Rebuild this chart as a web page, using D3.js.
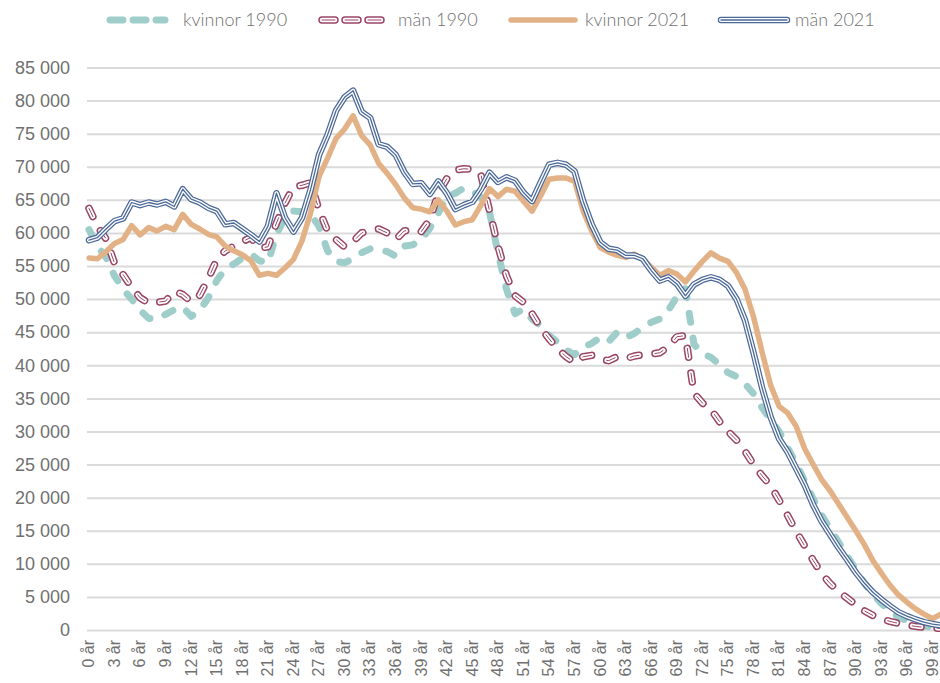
<!DOCTYPE html>
<html>
<head>
<meta charset="utf-8">
<script src="https://cdn.jsdelivr.net/npm/d3@7"></script>
<style>
  body { margin: 0; background: #fff; }
  svg { display: block; font-family: 'Lato Light', Lato, 'Open Sans', sans-serif; font-weight: 300; }
  .axis text { fill: #707070; }
  .axis .domain { display: none; }
  .legend text { fill: #707070; font-size: 18px; }
</style>
</head>
<body>
<svg id="chart" width="940" height="683"></svg>
<script>
// Ages 0..100 (100 = 100+)
var ages = d3.range(0, 101);

var tickAges = [0, 3, 6, 9, 12, 15, 18, 21, 24, 27, 30, 33, 36, 39, 42, 45, 48,
  51, 54, 57, 60, 63, 66, 69, 72, 75, 78, 81, 84, 87, 90, 93, 96, 99];

var yTicks = [0, 5000, 10000, 15000, 20000, 25000, 30000, 35000, 40000, 45000,
  50000, 55000, 60000, 65000, 70000, 75000, 80000, 85000];

var kvinnor1990 = [
  60500, 58000, 56300, 53500, 51500, 50000, 48300, 47100, 47000, 47700,
  48400, 48800, 47400, 48300, 50200, 52800, 54600, 55300, 56200, 56800,
  55800, 55500, 59800, 62300, 63300, 63200, 62800, 61000, 57300, 55700,
  55500, 56100, 57000, 57600, 57400, 57200, 56500, 58000, 58200, 59000,
  60700, 63000, 65500, 66000, 66800, 66300, 65400, 63200, 57000, 51500,
  47800, 48500, 47000, 46000, 44500, 43500, 42300, 41600, 42800, 43300,
  44200, 43600, 45000, 44200, 44800, 45800, 46500, 47000, 48300, 50400,
  51600, 43200, 41800, 41200, 40100, 38900, 38300, 37200, 35700, 33600,
  31800, 30000, 27500, 25200, 22500, 19800, 17300, 15300, 13200, 11200,
  9100, 7100, 5400, 4000, 2900, 2000, 1400, 900, 600, 400,
  350];

var man1990 = [
  63700, 61000, 59100, 55400, 53700, 51800, 50200, 49400, 49500, 49700,
  51200, 50700, 49600, 50600, 53100, 56000, 57300, 58000, 58700, 59300,
  57700, 57900, 61500, 64500, 67000, 67200, 67600, 63500, 60300, 59000,
  57900, 58700, 60000, 60400, 60600, 60000, 59000, 60300, 60500, 60200,
  62000, 66000, 68200, 69500, 69700, 69600, 68800, 63400, 58000, 53500,
  50500, 49500, 47800, 45700, 44000, 42500, 41300, 40400, 41300, 41500,
  40900, 40700, 41300, 41000, 41400, 41600, 41700, 41900, 42800, 44300,
  44500, 35800, 34300, 33300, 31500, 30000, 28700, 27000, 25000, 23300,
  21800, 19600, 17300, 14900, 12700, 10500, 8500, 7000, 5800, 4800,
  3800, 2900, 2200, 1700, 1300, 1000, 750, 550, 400, 300,
  250];

var kvinnor2021 = [
  56200, 56100, 57200, 58400, 59000, 61100, 59700, 60800, 60300, 61000,
  60500, 62800, 61300, 60600, 59800, 59400, 58000, 57300, 56700, 55800,
  53600, 53900, 53600, 54700, 56000, 58800, 63000, 68500, 71300, 74300,
  75700, 77700, 74700, 73300, 70500, 69000, 67300, 65300, 63800, 63600,
  63200, 65000, 63300, 61200, 61700, 62000, 64200, 66700, 65500, 66600,
  66300, 64800, 63300, 65600, 68100, 68300, 68300, 67800, 63300, 60300,
  57800, 57100, 56600, 56300, 56800, 56100, 54800, 53600, 54300, 53800,
  52600, 54200, 55700, 57000, 56200, 55700, 54000, 51500, 47300, 42000,
  37000, 33800, 32800, 30800, 27400, 25000, 22700, 21000, 19000, 17000,
  15000, 12900, 10500, 8600, 6800, 5300, 4200, 3200, 2400, 1700,
  2400];

var man2021 = [
  58900, 59300, 60600, 61800, 62200, 64600, 64200, 64600, 64300, 64700,
  64000, 66600, 65100, 64600, 63800, 63300, 61300, 61500, 60600, 59700,
  58700, 61000, 66000, 62300, 60200, 62300, 66500, 71800, 74800, 78500,
  80500, 81500, 78300, 77400, 73400, 73000, 71800, 69200, 67400, 67500,
  65900, 67800, 66000, 63600, 64200, 64700, 66600, 69100, 67700, 68400,
  67900, 66100, 64800, 67600, 70300, 70600, 70300, 69300, 64800, 61300,
  58600, 57600, 57400, 56600, 56600, 56100, 54300, 52800, 53300, 52300,
  50500, 52200, 52900, 53300, 52900, 52000, 50000, 46800, 41900, 36600,
  32200, 28900, 26900, 24400, 21900, 18900, 16400, 14400, 12400, 10600,
  8700, 7100, 5700, 4600, 3600, 2700, 2100, 1600, 1200, 900,
  700];

var seriesNames = ['kvinnor 1990', 'män 1990', 'kvinnor 2021', 'män 2021'];

(function draw() {

  var svg = d3.select('#chart');

  var xScale = d3.scaleLinear()
    .domain([0, 100])
    .range([89, 941]);

  var yScale = d3.scaleLinear()
    .domain([0, 85000])
    .range([630, 67.5]);

  var fmt = function (d) { return d3.format(',')(d).replace(/,/g, ' '); };

  // Y axis with gridlines
  var yAxis = d3.axisLeft(yScale)
    .tickValues(yTicks)
    .tickSize(-(940 - 87))
    .tickPadding(17)
    .tickFormat(fmt);

  var gy = svg.append('g')
      .attr('class', 'axis')
      .attr('transform', 'translate(87,0)')
      .call(yAxis);

  gy.selectAll('line')
      .attr('stroke', '#dadada')
      .attr('stroke-width', 2);

  gy.selectAll('text')
      .attr('font-size', 18);

  // X axis labels
  var xAxis = d3.axisBottom(xScale)
    .tickValues(tickAges)
    .tickSize(0)
    .tickFormat(function (d) { return d + ' år'; });

  var gx = svg.append('g')
      .attr('class', 'axis')
      .attr('transform', 'translate(0,630)')
      .call(xAxis);

  gx.selectAll('text')
      .attr('font-size', 16)
      .attr('text-anchor', 'end')
      .attr('transform', 'rotate(-90)')
      .attr('x', -10)
      .attr('y', 0)
      .attr('dy', '0.3em');

  var line = d3.line()
    .x(function (d, i) { return xScale(ages[i]); })
    .y(function (d) { return yScale(d); });

  // Line styles: one entry per layer
  var dash = '9,16';
  var styles = [
    [{ color: '#9ecdca', width: 7, dash: dash }],
    [{ color: '#9a4564', width: 7.5, dash: dash },
     { color: '#ffffff', width: 4.5, dash: dash },
     { color: '#9a4564', width: 1, dash: dash }],
    [{ color: '#e3b186', width: 5.5 }],
    [{ color: '#4a6898', width: 6.5 },
     { color: '#ffffff', width: 4 },
     { color: '#4a6898', width: 1.3 }]
  ];

  var allData = [kvinnor1990, man1990, kvinnor2021, man2021];

  var plot = svg.append('g');

  allData.forEach(function (values, k) {
    styles[k].forEach(function (s) {
      plot.append('path')
          .datum(values)
          .attr('d', line)
          .attr('fill', 'none')
          .attr('stroke', s.color)
          .attr('stroke-width', s.width)
          .attr('stroke-linecap', 'round')
          .attr('stroke-linejoin', 'round')
          .attr('stroke-dasharray', s.dash || null);
    });
  });

  // Legend
  var legendPos = [
    { x0: 107, x1: 168, tx: 183 },
    { x0: 319, x1: 384, tx: 398 },
    { x0: 508, x1: 578, tx: 585 },
    { x0: 718, x1: 790, tx: 795 }
  ];

  var legend = svg.append('g').attr('class', 'legend');

  seriesNames.forEach(function (name, k) {
    var p = legendPos[k];
    styles[k].forEach(function (s) {
      legend.append('line')
          .attr('x1', p.x0 + 3)
          .attr('x2', p.x1 - 3)
          .attr('y1', 20)
          .attr('y2', 20)
          .attr('stroke', s.color)
          .attr('stroke-width', s.width)
          .attr('stroke-linecap', 'round')
          .attr('stroke-dasharray', s.dash ? '13,10' : null);
    });
    legend.append('text')
        .attr('x', p.tx)
        .attr('y', 20)
        .attr('dy', '0.35em')
        .text(name);
  });
})();
</script>
</body>
</html>
